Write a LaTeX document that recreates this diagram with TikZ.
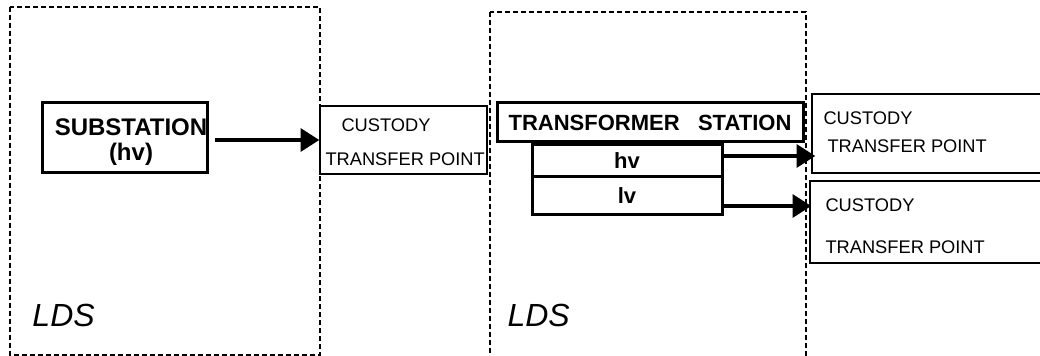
\documentclass[tikz,border=0pt]{standalone}
\usepackage{fontspec}
\setmainfont{Liberation Sans}
\usetikzlibrary{arrows.meta}

\tikzset{every picture/.style={line width=0.75pt}}
\tikzset{
thickbox/.style={draw, line width=2.25pt, inner sep=0pt},
thinbox/.style={draw, line width=1pt, inner sep=0pt},
zone/.style={draw, line width=0.9pt, dash pattern=on 3.75pt off 2.25pt},
flow/.style={line width=3pt, -{Triangle[length=14pt,width=17pt]}},
boldtext/.style={font=\bfseries\fontsize{16.5}{17.25}\selectfont, align=center},
pointtext/.style={anchor=west, inner sep=0pt, font=\fontsize{13.7}{16}\selectfont},
ldstext/.style={anchor=west, inner sep=0pt, font=\itshape\fontsize{24}{28}\selectfont}}

\begin{document}
\begin{tikzpicture}[x=0.75pt,y=0.75pt,yscale=-1,xscale=1]
\clip (0,0) rectangle (1040,356);

%Shape: Rectangle (dashed zones)
\draw [zone] (10,7) rectangle (320,355);
\draw [zone] (490,12) rectangle (806,370);

%Shape: Rectangle
\node [thickbox, minimum width=123.75pt, minimum height=52.5pt] (sub) at (124.5,138) {};
\node [align=center, inner sep=0pt, font=\bfseries\fontsize{18}{18.5}\selectfont] (subtext) at (131,142) {SUBSTATION\\(hv)};
%Shape: Rectangle
\node [thinbox, minimum width=125.25pt, minimum height=51pt] (cust1) at (403.5,140) {};
%Shape: Rectangle
\node [thickbox, boldtext, minimum width=229.5pt, minimum height=29.25pt] (trans) at (650,122.5) {TRANSFORMER\ \ \ STATION};
\node [thickbox, boldtext, minimum width=142.5pt, minimum height=24pt] (hv) at (627,161) {hv};
\node [thickbox, boldtext, minimum width=142.5pt, minimum height=28.5pt] (lv) at (627,196) {lv};
%Shape: Rectangle
\node [thinbox, minimum width=174.75pt, minimum height=59.25pt] (cust2) at (928.5,133.5) {};
\node [thinbox, minimum width=176.25pt, minimum height=61.5pt] (cust3) at (927.5,222) {};

%Straight Lines
\draw [flow] ([xshift=4.5pt]sub.east |- cust1.west) -- (cust1.west);
\draw [flow] ([yshift=-3.75pt]hv.east) -- ([yshift=-3.75pt,xshift=3pt]hv.east -| cust2.west);
\draw [flow] ([yshift=7.5pt]lv.east) -- ([yshift=7.5pt,xshift=1.5pt]lv.east -| cust3.west);

% Text Node
\node [pointtext] (c1a) at (341,125) {CUSTODY};
\node [pointtext] (c1b) at (325,159) {TRANSFER POINT};
% Text Node
\node [pointtext] (c2a) at (823,118) {CUSTODY};
\node [pointtext] (c2b) at (827,146) {TRANSFER POINT};
% Text Node
\node [pointtext] (c3a) at (825,205) {CUSTODY};
\node [pointtext] (c3b) at (825,247) {TRANSFER POINT};
% Text Node
\node [ldstext] (lds1) at (32,315) {LDS};
\node [ldstext] (lds2) at (507,315) {LDS};

\end{tikzpicture}
\end{document}
